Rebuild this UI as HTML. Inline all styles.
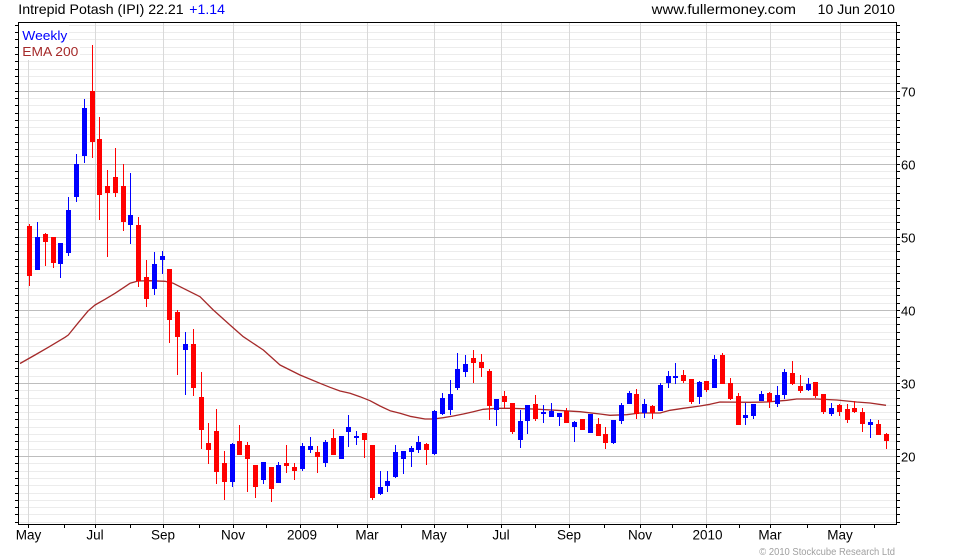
<!DOCTYPE html>
<html><head><meta charset="utf-8"><style>
html,body{margin:0;padding:0;background:#fff;}
svg{display:block;font-family:"Liberation Sans",Arial,sans-serif;}
</style></head><body>
<svg width="980" height="560" viewBox="0 0 980 560" xmlns="http://www.w3.org/2000/svg">
<rect x="0" y="0" width="980" height="560" fill="#fff"/>
<g shape-rendering="crispEdges">
<path stroke="#ececec" stroke-width="1" fill="none" d="M19 522.5H896M19 514.5H896M19 507.5H896M19 500.5H896M19 493.5H896M19 485.5H896M19 478.5H896M19 471.5H896M19 463.5H896M19 449.5H896M19 441.5H896M19 434.5H896M19 427.5H896M19 419.5H896M19 412.5H896M19 405.5H896M19 398.5H896M19 390.5H896M19 376.5H896M19 368.5H896M19 361.5H896M19 354.5H896M19 346.5H896M19 339.5H896M19 332.5H896M19 324.5H896M19 317.5H896M19 303.5H896M19 295.5H896M19 288.5H896M19 281.5H896M19 273.5H896M19 266.5H896M19 259.5H896M19 251.5H896M19 244.5H896M19 229.5H896M19 222.5H896M19 215.5H896M19 208.5H896M19 200.5H896M19 193.5H896M19 186.5H896M19 178.5H896M19 171.5H896M19 156.5H896M19 149.5H896M19 142.5H896M19 134.5H896M19 127.5H896M19 120.5H896M19 113.5H896M19 105.5H896M19 98.5H896M19 83.5H896M19 76.5H896M19 69.5H896M19 61.5H896M19 54.5H896M19 47.5H896M19 39.5H896M19 32.5H896M19 25.5H896"/>
<path stroke="#d9d9d9" stroke-width="1" fill="none" d="M28.5 23V524M95.5 23V524M163.5 23V524M233.5 23V524M300.5 23V524M367.5 23V524M434.5 23V524M501.5 23V524M569.5 23V524M640.5 23V524M706.5 23V524M770.5 23V524M840.5 23V524"/>
<path stroke="#bdbdbd" stroke-width="1" fill="none" d="M19 91.5H896M19 164.5H896M19 237.5H896M19 310.5H896M19 383.5H896M19 456.5H896"/>
</g>
<rect x="19" y="23" width="50" height="20" fill="#fff"/>
<rect x="19" y="43" width="61" height="17" fill="#fff"/>
<polyline fill="none" stroke="#a52a2a" stroke-width="1.3" stroke-linejoin="round" points="20,363.5 35,355 48.3,347.3 65,337.3 68.3,335 78.3,322.7 88.3,310.7 95,305 105,299.3 115,293.3 125,286.7 130,283.3 138,281 150,280.7 165,281.3 173.3,283.3 188,290.7 200,296.7 213.3,310 230,325 243.3,336.7 263.3,350 280,365 300,375 320,383.3 330,387.3 340,391 350,393.3 360,396.7 370,400.7 380,406 390,410.7 400,413.3 410,416.3 425,419 433.3,419 443.3,417.7 453.3,416 463.3,414 473.3,411.7 483.3,409.3 496.7,408.3 510,408.3 533.3,409 563.3,410.7 580,411.7 600,414 610,415.3 626.7,414.7 640,413 660,413 670,410.3 683.3,408.3 700,406 710,404.3 720,402 750,402.3 766.7,402 786.7,400.3 796.7,399 816.7,399 836.7,400 846.7,401 856.7,402 870,403 886,405.3"/>
<g fill="#ff0000" shape-rendering="crispEdges">
<rect x="27" y="226" width="5" height="50"/><rect x="29" y="224" width="1" height="62"/>
<rect x="43" y="234" width="5" height="8"/><rect x="45" y="233" width="1" height="33"/>
<rect x="51" y="237" width="5" height="26"/><rect x="53" y="237" width="1" height="31"/>
<rect x="90" y="91" width="5" height="51"/><rect x="92" y="45" width="1" height="113"/>
<rect x="97" y="139" width="5" height="56"/><rect x="99" y="117" width="1" height="103"/>
<rect x="105" y="186" width="5" height="7"/><rect x="107" y="170" width="1" height="87"/>
<rect x="113" y="177" width="5" height="16"/><rect x="115" y="148" width="1" height="49"/>
<rect x="121" y="186" width="5" height="36"/><rect x="123" y="164" width="1" height="67"/>
<rect x="136" y="225" width="5" height="56"/><rect x="138" y="217" width="1" height="70"/>
<rect x="144" y="277" width="5" height="22"/><rect x="146" y="260" width="1" height="47"/>
<rect x="167" y="269" width="5" height="51"/><rect x="169" y="269" width="1" height="74"/>
<rect x="175" y="312" width="5" height="25"/><rect x="177" y="310" width="1" height="65"/>
<rect x="191" y="344" width="5" height="44"/><rect x="193" y="329" width="1" height="67"/>
<rect x="199" y="397" width="5" height="33"/><rect x="201" y="372" width="1" height="77"/>
<rect x="206" y="443" width="5" height="7"/><rect x="208" y="423" width="1" height="41"/>
<rect x="214" y="431" width="5" height="41"/><rect x="216" y="409" width="1" height="75"/>
<rect x="222" y="463" width="5" height="19"/><rect x="224" y="451" width="1" height="49"/>
<rect x="237" y="441" width="5" height="14"/><rect x="239" y="425" width="1" height="30"/>
<rect x="245" y="445" width="5" height="14"/><rect x="247" y="442" width="1" height="50"/>
<rect x="253" y="465" width="5" height="22"/><rect x="255" y="465" width="1" height="33"/>
<rect x="269" y="467" width="5" height="22"/><rect x="271" y="467" width="1" height="35"/>
<rect x="284" y="463" width="5" height="3"/><rect x="286" y="445" width="1" height="28"/>
<rect x="292" y="467" width="5" height="4"/><rect x="294" y="463" width="1" height="17"/>
<rect x="315" y="452" width="5" height="5"/><rect x="317" y="446" width="1" height="27"/>
<rect x="331" y="438" width="5" height="17"/><rect x="333" y="429" width="1" height="26"/>
<rect x="362" y="433" width="5" height="7"/><rect x="364" y="433" width="1" height="25"/>
<rect x="370" y="445" width="5" height="53"/><rect x="372" y="445" width="1" height="55"/>
<rect x="424" y="444" width="5" height="6"/><rect x="426" y="443" width="1" height="22"/>
<rect x="471" y="358" width="5" height="5"/><rect x="473" y="350" width="1" height="33"/>
<rect x="479" y="362" width="5" height="6"/><rect x="481" y="354" width="1" height="23"/>
<rect x="487" y="371" width="5" height="35"/><rect x="489" y="369" width="1" height="51"/>
<rect x="502" y="396" width="5" height="6"/><rect x="504" y="391" width="1" height="17"/>
<rect x="510" y="403" width="5" height="29"/><rect x="512" y="403" width="1" height="31"/>
<rect x="533" y="404" width="5" height="15"/><rect x="535" y="395" width="1" height="26"/>
<rect x="564" y="411" width="5" height="12"/><rect x="566" y="408" width="1" height="15"/>
<rect x="580" y="419" width="5" height="11"/><rect x="582" y="419" width="1" height="11"/>
<rect x="596" y="424" width="5" height="12"/><rect x="598" y="418" width="1" height="18"/>
<rect x="603" y="434" width="5" height="9"/><rect x="605" y="427" width="1" height="22"/>
<rect x="634" y="394" width="5" height="20"/><rect x="636" y="389" width="1" height="30"/>
<rect x="650" y="406" width="5" height="7"/><rect x="652" y="405" width="1" height="14"/>
<rect x="681" y="375" width="5" height="6"/><rect x="683" y="370" width="1" height="13"/>
<rect x="689" y="379" width="5" height="23"/><rect x="691" y="379" width="1" height="25"/>
<rect x="704" y="381" width="5" height="9"/><rect x="706" y="381" width="1" height="11"/>
<rect x="720" y="355" width="5" height="29"/><rect x="722" y="353" width="1" height="31"/>
<rect x="728" y="383" width="5" height="16"/><rect x="730" y="378" width="1" height="22"/>
<rect x="736" y="396" width="5" height="29"/><rect x="738" y="393" width="1" height="32"/>
<rect x="767" y="393" width="5" height="9"/><rect x="769" y="392" width="1" height="16"/>
<rect x="790" y="373" width="5" height="11"/><rect x="792" y="361" width="1" height="24"/>
<rect x="798" y="386" width="5" height="5"/><rect x="800" y="375" width="1" height="18"/>
<rect x="813" y="382" width="5" height="14"/><rect x="815" y="382" width="1" height="16"/>
<rect x="821" y="394" width="5" height="18"/><rect x="823" y="394" width="1" height="20"/>
<rect x="837" y="405" width="5" height="7"/><rect x="839" y="404" width="1" height="12"/>
<rect x="845" y="409" width="5" height="11"/><rect x="847" y="404" width="1" height="19"/>
<rect x="852" y="408" width="5" height="4"/><rect x="854" y="401" width="1" height="12"/>
<rect x="860" y="412" width="5" height="12"/><rect x="862" y="408" width="1" height="24"/>
<rect x="876" y="424" width="5" height="11"/><rect x="878" y="420" width="1" height="15"/>
<rect x="884" y="434" width="5" height="7"/><rect x="886" y="433" width="1" height="16"/>
</g>
<g fill="#0000ff" shape-rendering="crispEdges">
<rect x="35" y="237" width="5" height="33"/><rect x="37" y="222" width="1" height="48"/>
<rect x="58" y="243" width="5" height="21"/><rect x="60" y="243" width="1" height="35"/>
<rect x="66" y="210" width="5" height="43"/><rect x="68" y="197" width="1" height="59"/>
<rect x="74" y="164" width="5" height="33"/><rect x="76" y="154" width="1" height="48"/>
<rect x="82" y="108" width="5" height="48"/><rect x="84" y="99" width="1" height="64"/>
<rect x="128" y="215" width="5" height="10"/><rect x="130" y="173" width="1" height="71"/>
<rect x="152" y="264" width="5" height="25"/><rect x="154" y="252" width="1" height="43"/>
<rect x="160" y="256" width="5" height="4"/><rect x="162" y="251" width="1" height="23"/>
<rect x="183" y="344" width="5" height="6"/><rect x="185" y="332" width="1" height="63"/>
<rect x="230" y="444" width="5" height="38"/><rect x="232" y="443" width="1" height="44"/>
<rect x="261" y="462" width="5" height="18"/><rect x="263" y="462" width="1" height="22"/>
<rect x="276" y="465" width="5" height="18"/><rect x="278" y="462" width="1" height="21"/>
<rect x="300" y="446" width="5" height="23"/><rect x="302" y="443" width="1" height="28"/>
<rect x="308" y="446" width="5" height="4"/><rect x="310" y="437" width="1" height="16"/>
<rect x="323" y="442" width="5" height="21"/><rect x="325" y="440" width="1" height="27"/>
<rect x="339" y="436" width="5" height="23"/><rect x="341" y="436" width="1" height="23"/>
<rect x="346" y="427" width="5" height="5"/><rect x="348" y="415" width="1" height="32"/>
<rect x="354" y="436" width="5" height="2"/><rect x="356" y="431" width="1" height="14"/>
<rect x="378" y="487" width="5" height="7"/><rect x="380" y="471" width="1" height="24"/>
<rect x="385" y="481" width="5" height="5"/><rect x="387" y="471" width="1" height="21"/>
<rect x="393" y="452" width="5" height="25"/><rect x="395" y="445" width="1" height="33"/>
<rect x="401" y="451" width="5" height="8"/><rect x="403" y="451" width="1" height="23"/>
<rect x="409" y="448" width="5" height="4"/><rect x="411" y="446" width="1" height="21"/>
<rect x="416" y="442" width="5" height="8"/><rect x="418" y="436" width="1" height="17"/>
<rect x="432" y="411" width="5" height="43"/><rect x="434" y="410" width="1" height="45"/>
<rect x="440" y="398" width="5" height="16"/><rect x="442" y="393" width="1" height="22"/>
<rect x="448" y="394" width="5" height="16"/><rect x="450" y="380" width="1" height="35"/>
<rect x="455" y="369" width="5" height="19"/><rect x="457" y="353" width="1" height="37"/>
<rect x="463" y="364" width="5" height="8"/><rect x="465" y="355" width="1" height="22"/>
<rect x="494" y="399" width="5" height="11"/><rect x="496" y="399" width="1" height="27"/>
<rect x="518" y="421" width="5" height="19"/><rect x="520" y="410" width="1" height="38"/>
<rect x="525" y="405" width="5" height="16"/><rect x="527" y="405" width="1" height="29"/>
<rect x="541" y="412" width="5" height="2"/><rect x="543" y="405" width="1" height="18"/>
<rect x="549" y="411" width="5" height="6"/><rect x="551" y="403" width="1" height="14"/>
<rect x="557" y="413" width="5" height="4"/><rect x="559" y="413" width="1" height="13"/>
<rect x="572" y="422" width="5" height="5"/><rect x="574" y="421" width="1" height="21"/>
<rect x="588" y="414" width="5" height="19"/><rect x="590" y="414" width="1" height="19"/>
<rect x="611" y="420" width="5" height="23"/><rect x="613" y="420" width="1" height="24"/>
<rect x="619" y="405" width="5" height="16"/><rect x="621" y="403" width="1" height="21"/>
<rect x="627" y="393" width="5" height="11"/><rect x="629" y="391" width="1" height="13"/>
<rect x="642" y="404" width="5" height="9"/><rect x="644" y="399" width="1" height="19"/>
<rect x="658" y="385" width="5" height="26"/><rect x="660" y="383" width="1" height="28"/>
<rect x="666" y="376" width="5" height="7"/><rect x="668" y="371" width="1" height="17"/>
<rect x="673" y="376" width="5" height="2"/><rect x="675" y="363" width="1" height="21"/>
<rect x="697" y="382" width="5" height="15"/><rect x="699" y="381" width="1" height="23"/>
<rect x="712" y="359" width="5" height="29"/><rect x="714" y="355" width="1" height="33"/>
<rect x="743" y="415" width="5" height="3"/><rect x="745" y="403" width="1" height="22"/>
<rect x="751" y="404" width="5" height="12"/><rect x="753" y="404" width="1" height="15"/>
<rect x="759" y="394" width="5" height="7"/><rect x="761" y="391" width="1" height="10"/>
<rect x="775" y="395" width="5" height="9"/><rect x="777" y="386" width="1" height="21"/>
<rect x="782" y="372" width="5" height="23"/><rect x="784" y="369" width="1" height="30"/>
<rect x="806" y="384" width="5" height="6"/><rect x="808" y="378" width="1" height="13"/>
<rect x="829" y="408" width="5" height="6"/><rect x="831" y="403" width="1" height="13"/>
<rect x="868" y="422" width="5" height="3"/><rect x="870" y="419" width="1" height="19"/>
</g>
<g shape-rendering="crispEdges" stroke="#000" stroke-width="1" fill="none">
<rect x="18.5" y="22.5" width="878" height="502"/>
<path d="M15 522.5H18M15 514.5H18M15 507.5H18M15 500.5H18M15 493.5H18M15 485.5H18M15 478.5H18M15 471.5H18M15 463.5H18M15 456.5H18M15 449.5H18M15 441.5H18M15 434.5H18M15 427.5H18M15 419.5H18M15 412.5H18M15 405.5H18M15 398.5H18M15 390.5H18M15 383.5H18M15 376.5H18M15 368.5H18M15 361.5H18M15 354.5H18M15 346.5H18M15 339.5H18M15 332.5H18M15 324.5H18M15 317.5H18M15 310.5H18M15 303.5H18M15 295.5H18M15 288.5H18M15 281.5H18M15 273.5H18M15 266.5H18M15 259.5H18M15 251.5H18M15 244.5H18M15 237.5H18M15 229.5H18M15 222.5H18M15 215.5H18M15 208.5H18M15 200.5H18M15 193.5H18M15 186.5H18M15 178.5H18M15 171.5H18M15 164.5H18M15 156.5H18M15 149.5H18M15 142.5H18M15 134.5H18M15 127.5H18M15 120.5H18M15 113.5H18M15 105.5H18M15 98.5H18M15 91.5H18M15 83.5H18M15 76.5H18M15 69.5H18M15 61.5H18M15 54.5H18M15 47.5H18M15 39.5H18M15 32.5H18M15 25.5H18"/>
<path d="M897 522.5H900M897 514.5H900M897 507.5H900M897 500.5H900M897 493.5H900M897 485.5H900M897 478.5H900M897 471.5H900M897 463.5H900M897 456.5H900M897 449.5H900M897 441.5H900M897 434.5H900M897 427.5H900M897 419.5H900M897 412.5H900M897 405.5H900M897 398.5H900M897 390.5H900M897 383.5H900M897 376.5H900M897 368.5H900M897 361.5H900M897 354.5H900M897 346.5H900M897 339.5H900M897 332.5H900M897 324.5H900M897 317.5H900M897 310.5H900M897 303.5H900M897 295.5H900M897 288.5H900M897 281.5H900M897 273.5H900M897 266.5H900M897 259.5H900M897 251.5H900M897 244.5H900M897 237.5H900M897 229.5H900M897 222.5H900M897 215.5H900M897 208.5H900M897 200.5H900M897 193.5H900M897 186.5H900M897 178.5H900M897 171.5H900M897 164.5H900M897 156.5H900M897 149.5H900M897 142.5H900M897 134.5H900M897 127.5H900M897 120.5H900M897 113.5H900M897 105.5H900M897 98.5H900M897 91.5H900M897 83.5H900M897 76.5H900M897 69.5H900M897 61.5H900M897 54.5H900M897 47.5H900M897 39.5H900M897 32.5H900M897 25.5H900"/>
<path d="M28.5 525V528M64.5 525V528M95.5 525V528M130.5 525V528M163.5 525V528M199.5 525V528M233.5 525V528M266.5 525V528M300.5 525V528M337.5 525V528M367.5 525V528M401.5 525V528M434.5 525V528M467.5 525V528M501.5 525V528M535.5 525V528M569.5 525V528M604.5 525V528M640.5 525V528M672.5 525V528M706.5 525V528M739.5 525V528M770.5 525V528M807.5 525V528M840.5 525V528M874.5 525V528"/>
</g>
<text x="18.3" y="14" font-size="14" fill="#000" textLength="165.4" lengthAdjust="spacingAndGlyphs">Intrepid Potash (IPI) 22.21</text>
<text x="189.3" y="14" font-size="14" fill="#0000ff" textLength="35.7" lengthAdjust="spacingAndGlyphs">+1.14</text>
<text x="651.7" y="14" font-size="14" fill="#000" textLength="144.3" lengthAdjust="spacingAndGlyphs">www.fullermoney.com</text>
<text x="817.7" y="14" font-size="14" fill="#000" textLength="77.3" lengthAdjust="spacingAndGlyphs">10 Jun 2010</text>
<text x="22.3" y="40" font-size="13" fill="#0000ff" textLength="45" lengthAdjust="spacingAndGlyphs">Weekly</text>
<text x="22.3" y="56" font-size="13" fill="#a52a2a" textLength="56" lengthAdjust="spacingAndGlyphs">EMA 200</text>
<g font-size="13" fill="#000">
<text x="901" y="96.5">70</text>
<text x="901" y="169.5">60</text>
<text x="901" y="242.5">50</text>
<text x="901" y="315.5">40</text>
<text x="901" y="388.5">30</text>
<text x="901" y="461.5">20</text>
</g>
<g font-size="13.5" fill="#000" text-anchor="middle">
<text x="28.5" y="539.5">May</text>
<text x="95" y="539.5">Jul</text>
<text x="163" y="539.5">Sep</text>
<text x="233" y="539.5">Nov</text>
<text x="302" y="539.5">2009</text>
<text x="367" y="539.5">Mar</text>
<text x="434" y="539.5">May</text>
<text x="501" y="539.5">Jul</text>
<text x="569" y="539.5">Sep</text>
<text x="640" y="539.5">Nov</text>
<text x="707.5" y="539.5">2010</text>
<text x="770" y="539.5">Mar</text>
<text x="840" y="539.5">May</text>
</g>
<text x="759.3" y="555" font-size="10" fill="#a0a0a0" textLength="135.7" lengthAdjust="spacingAndGlyphs">© 2010 Stockcube Research Ltd</text>
</svg>
</body></html>
